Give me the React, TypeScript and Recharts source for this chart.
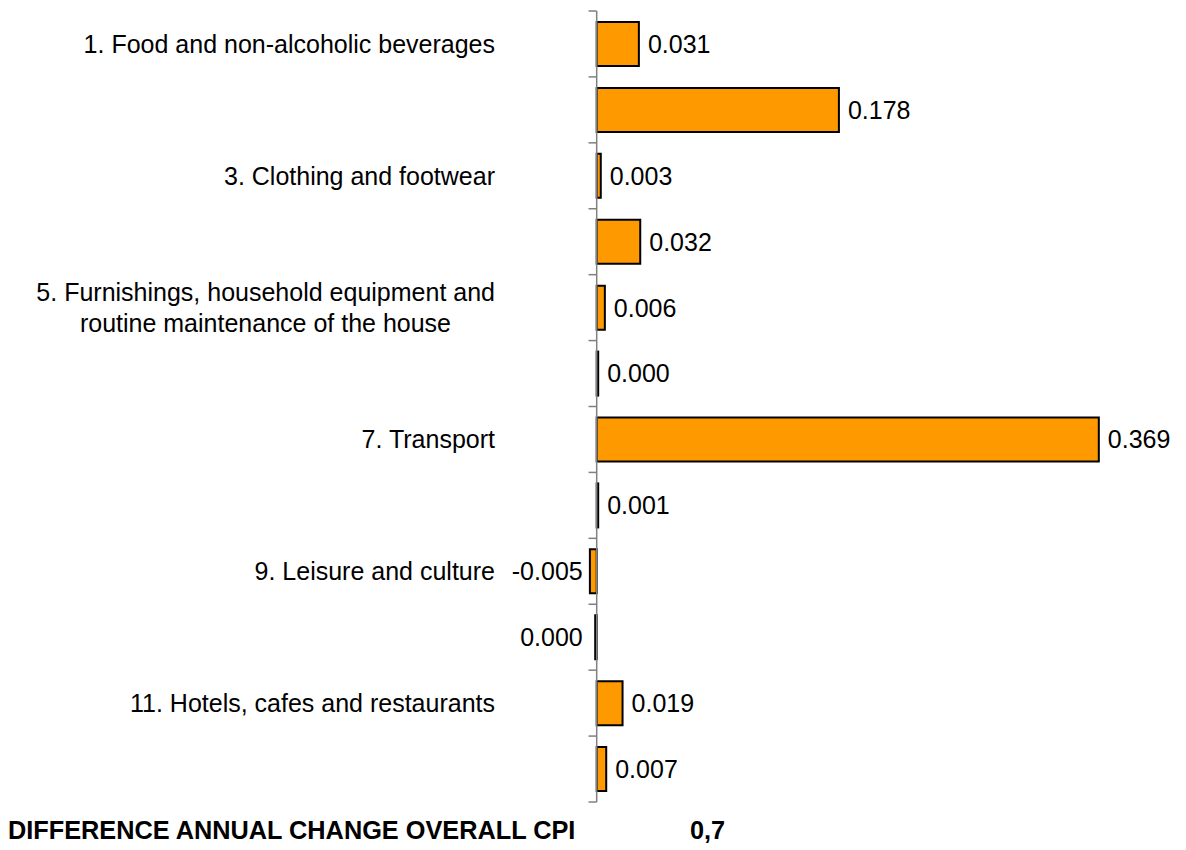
import React from "react";
import { BarChart, Bar, XAxis, YAxis, ReferenceLine, LabelList } from "recharts";

const CATEGORIES = [
  "1. Food and non-alcoholic beverages",
  "2. Alcoholic beverages and tobacco",
  "3. Clothing and footwear",
  "4. Housing, water, electricity, gas and other fuels",
  "5. Furnishings, household equipment and routine maintenance of the house",
  "6. Health",
  "7. Transport",
  "8. Communications",
  "9. Leisure and culture",
  "10. Education",
  "11. Hotels, cafes and restaurants",
  "12. Miscellaneous goods and services",
];

const VALUES = [0.031, 0.178, 0.003, 0.032, 0.006, 0.0002, 0.369, 0.001, -0.005, -0.0002, 0.019, 0.007];

const TICK_LABELS: string[][] = [
  ["1. Food and non-alcoholic beverages"],
  [],
  ["3. Clothing and footwear"],
  [],
  ["5. Furnishings, household equipment and", "routine maintenance of the house"],
  [],
  ["7. Transport"],
  [],
  ["9. Leisure and culture"],
  [],
  ["11. Hotels, cafes and restaurants"],
  [],
];

const FOOTER_LABEL = "DIFFERENCE ANNUAL CHANGE OVERALL CPI";
const FOOTER_VALUE = "0,7";

const data = CATEGORIES.map((c, i) => ({ name: c, value: VALUES[i] }));

const FONT = "'Liberation Sans', Arial, Helvetica, sans-serif";
const FONT_SIZE = 25;
const AXIS_COLOR = "#808080";

const fmt = (v: number) => (Math.abs(v) < 0.0005 ? "0.000" : v.toFixed(3));

const CategoryTick = (props: any) => {
  const { x, y, payload } = props;
  const idx = CATEGORIES.indexOf(payload.value);
  const lines = TICK_LABELS[idx] || [];
  if (lines.length === 0) return null;
  if (lines.length === 1) {
    return (
      <text x={x} y={y} dy="0.355em" textAnchor="end" fontFamily={FONT} fontSize={FONT_SIZE} fill="#000">
        {lines[0]}
      </text>
    );
  }
  return (
    <g>
      <text x={x} y={y - 15.5} dy="0.355em" textAnchor="end" fontFamily={FONT} fontSize={FONT_SIZE} fill="#000">
        {lines[0]}
      </text>
      <text x={x - 44} y={y + 15.5} dy="0.355em" textAnchor="end" fontFamily={FONT} fontSize={FONT_SIZE} fill="#000">
        {lines[1]}
      </text>
    </g>
  );
};

const ValueLabel = (props: any) => {
  const vb = props.viewBox || {};
  const x = props.x ?? vb.x;
  const y = props.y ?? vb.y;
  const width = props.width ?? vb.width ?? 0;
  const height = props.height ?? vb.height ?? 0;
  const value = Number(props.value);
  const right = Math.max(x, x + width);
  const cy = y + height / 2;
  if (value < 0) {
    return (
      <text x={right - 14} y={cy} dy="0.355em" textAnchor="end" fontFamily={FONT} fontSize={FONT_SIZE} fill="#000">
        {fmt(value)}
      </text>
    );
  }
  return (
    <text x={right + 9} y={cy} dy="0.355em" textAnchor="start" fontFamily={FONT} fontSize={FONT_SIZE} fill="#000">
      {fmt(value)}
    </text>
  );
};

export default function App() {
  const last = CATEGORIES[CATEGORIES.length - 1];
  return (
    <div style={{ position: "absolute", left: 0, top: 0, width: 1186, height: 850, background: "#fff" }}>
      <BarChart
        width={1186}
        height={850}
        data={data}
        layout="vertical"
        margin={{ top: 11, right: 45, bottom: 48, left: 0 }}
      >
        <XAxis type="number" hide domain={[-0.074, 0.4]} allowDataOverflow />
        <YAxis
          type="category"
          dataKey="name"
          width={496}
          axisLine={false}
          tickLine={false}
          tickSize={0}
          tickMargin={1}
          interval={1}
          tick={<CategoryTick />}
        />
        <ReferenceLine x={0} stroke={AXIS_COLOR} strokeWidth={1.5} />
        {CATEGORIES.map((c) => (
          <ReferenceLine
            key={"s-" + c}
            position="start"
            segment={[
              { x: -0.006, y: c },
              { x: 0, y: c },
            ]}
            stroke={AXIS_COLOR}
            strokeWidth={1.5}
            ifOverflow="visible"
          />
        ))}
        <ReferenceLine
          position="end"
          segment={[
            { x: -0.006, y: last },
            { x: 0, y: last },
          ]}
          stroke={AXIS_COLOR}
          strokeWidth={1.5}
          ifOverflow="visible"
        />
        <Bar
          dataKey="value"
          fill="#FF9900"
          stroke="#000"
          strokeWidth={2}
          barSize={44}
          minPointSize={1.5}
          isAnimationActive={false}
        >
          <LabelList dataKey="value" content={<ValueLabel />} />
        </Bar>
      </BarChart>
      <svg width={1186} height={850} style={{ position: "absolute", left: 0, top: 0, pointerEvents: "none" }}>
        <text x={8} y={839} fontFamily={FONT} fontSize={25.3} fontWeight="bold" fill="#000">
          {FOOTER_LABEL}
        </text>
        <text x={690} y={839} fontFamily={FONT} fontSize={25.3} fontWeight="bold" fill="#000">
          {FOOTER_VALUE}
        </text>
      </svg>
    </div>
  );
}
